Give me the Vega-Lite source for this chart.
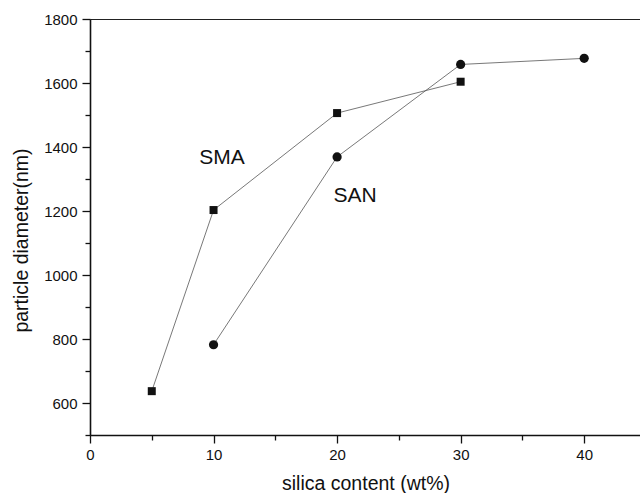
{
  "$schema": "https://vega.github.io/schema/vega-lite/v6.json",
  "width": 551,
  "height": 416,
  "autosize": "none",
  "padding": {"left": 90, "top": 19, "right": 0, "bottom": 58},
  "background": "white",
  "config": {
    "view": {"stroke": "#222", "strokeWidth": 1},
    "font": "Liberation Sans",
    "axis": {
      "domainColor": "#111",
      "domainWidth": 1.6,
      "tickColor": "#111",
      "tickWidth": 1.3,
      "grid": false,
      "labelFont": "Liberation Sans",
      "labelFontSize": 15,
      "labelColor": "#111",
      "titleFont": "Liberation Sans",
      "titleFontSize": 19.5,
      "titleFontWeight": "normal",
      "titleColor": "#111"
    }
  },
  "data": {
    "values": [
      {"series": "SMA", "silica": 5, "diameter": 637},
      {"series": "SMA", "silica": 10, "diameter": 1203},
      {"series": "SMA", "silica": 20, "diameter": 1506},
      {"series": "SMA", "silica": 30, "diameter": 1604},
      {"series": "SAN", "silica": 10, "diameter": 782},
      {"series": "SAN", "silica": 20, "diameter": 1369},
      {"series": "SAN", "silica": 30, "diameter": 1658},
      {"series": "SAN", "silica": 40, "diameter": 1677}
    ]
  },
  "encoding": {
    "x": {
      "field": "silica",
      "type": "quantitative",
      "scale": {"domain": [0, 44.6], "nice": false, "zero": false},
      "axis": {
        "title": "silica content (wt%)",
        "values": [0, 5, 10, 15, 20, 25, 30, 35, 40],
        "labelExpr": "datum.value % 10 === 0 ? datum.label : ''",
        "tickSize": {"condition": {"test": "datum.value % 10 === 0", "value": 8}, "value": 5},
        "labelPadding": 4,
        "titlePadding": 12,
        "labelFlush": false
      }
    },
    "y": {
      "field": "diameter",
      "type": "quantitative",
      "scale": {"domain": [500, 1800], "nice": false, "zero": false},
      "axis": {
        "title": "particle diameter(nm)",
        "titleY": 221,
        "values": [500, 600, 700, 800, 900, 1000, 1100, 1200, 1300, 1400, 1500, 1600, 1700, 1800],
        "labelExpr": "datum.value % 200 === 0 ? datum.label : ''",
        "format": "d",
        "tickSize": {"condition": {"test": "datum.value % 200 === 0", "value": 8}, "value": 5},
        "labelPadding": 5,
        "titlePadding": 12,
        "labelFlush": false
      }
    }
  },
  "layer": [
    {
      "mark": {"type": "line", "color": "#555", "strokeWidth": 0.8},
      "encoding": {"detail": {"field": "series"}}
    },
    {
      "transform": [{"filter": "datum.series === 'SMA'"}],
      "mark": {"type": "point", "shape": "square", "filled": true, "color": "#111", "size": 64, "opacity": 1}
    },
    {
      "transform": [{"filter": "datum.series === 'SAN'"}],
      "mark": {"type": "point", "shape": "circle", "filled": true, "color": "#111", "size": 85, "opacity": 1}
    },
    {
      "data": {"values": [
        {"label": "SMA", "silica": 10.69, "diameter": 1366},
        {"label": "SAN", "silica": 21.46, "diameter": 1247}
      ]},
      "mark": {"type": "text", "fontSize": 21, "font": "Liberation Sans", "color": "#111", "align": "center", "baseline": "middle"},
      "encoding": {"text": {"field": "label"}}
    }
  ]
}
